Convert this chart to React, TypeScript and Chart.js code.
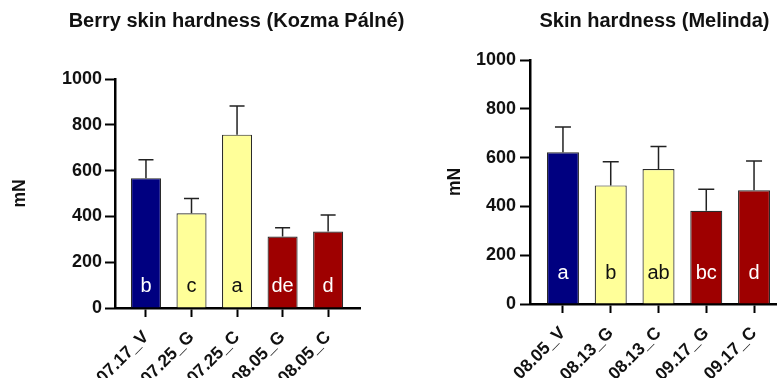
import React, { useEffect, useRef } from "react";
import { Chart, registerables } from "chart.js";

Chart.register(...registerables);

// ---------- data ----------
const leftTitle = "Berry skin hardness (Kozma Pálné)";
const leftLabels = ["07.17_V", "07.25_G", "07.25_C", "08.05_G", "08.05_C"];
const leftMeans = [567, 414, 757, 312, 334];
const leftErrTop = [647, 478, 882, 350, 406];
const leftLetters = ["b", "c", "a", "de", "d"];
const leftColorKeys = ["navy", "yellow", "yellow", "red", "red"];

const rightTitle = "Skin hardness (Melinda)";
const rightLabels = ["08.05_V", "08.13_G", "08.13_C", "09.17_G", "09.17_C"];
const rightMeans = [622, 486, 553, 382, 466];
const rightErrTop = [725, 583, 645, 470, 586];
const rightLetters = ["a", "b", "ab", "bc", "d"];
const rightColorKeys = ["navy", "yellow", "yellow", "red", "red"];

const yTicks = [0, 200, 400, 600, 800, 1000];
const yTitle = "mN";

// ---------- styles ----------
const FILL: Record<string, string> = { navy: "#000080", yellow: "#FFFF99", red: "#9E0000" };
const LETTER: Record<string, string> = { navy: "#FFFFFF", yellow: "#111111", red: "#FFFFFF" };
const FAMILY = '"Liberation Sans", Arial, Helvetica, sans-serif';

type Layout = {
  canvasLeft: number;
  width: number;
  padTop: number;
  padRight: number;
  yWidth: number;
  xHeight: number;
  xMin: number;
  xMax: number;
  barPct: number;
  titlePad: number;
  letterOffset: number;
  yTickPad: number;
  titleShift: number;
};

type PanelProps = {
  title: string;
  labels: string[];
  means: number[];
  errTop: number[];
  letters: string[];
  colorKeys: string[];
  layout: Layout;
};

function Panel({ title, labels, means, errTop, letters, colorKeys, layout }: PanelProps) {
  const ref = useRef<HTMLCanvasElement | null>(null);

  useEffect(() => {
    if (!ref.current) return;

    const overlay = {
      id: "overlay",
      afterDatasetsDraw(chart: any) {
        const ctx = chart.ctx;
        const meta = chart.getDatasetMeta(0);
        const ys = chart.scales.y;
        ctx.save();
        // error bars
        ctx.strokeStyle = "#222";
        ctx.lineWidth = 1.5;
        meta.data.forEach((bar: any, i: number) => {
          const top = ys.getPixelForValue(errTop[i]);
          const half = bar.width / 4;
          ctx.beginPath();
          ctx.moveTo(bar.x, bar.y);
          ctx.lineTo(bar.x, top);
          ctx.moveTo(bar.x - half, top);
          ctx.lineTo(bar.x + half, top);
          ctx.stroke();
        });
        // letters
        ctx.font = `20px ${FAMILY}`;
        ctx.textAlign = "center";
        ctx.textBaseline = "middle";
        meta.data.forEach((bar: any, i: number) => {
          ctx.fillStyle = LETTER[colorKeys[i]];
          ctx.fillText(letters[i], bar.x, ys.getPixelForValue(0) - layout.letterOffset);
        });
        // title
        const ca = chart.chartArea;
        ctx.font = `bold 20px ${FAMILY}`;
        ctx.fillStyle = "#111";
        ctx.fillText(title, (ca.left + ca.right) / 2 + layout.titleShift, 21.5);
        ctx.restore();
      },
    };

    const chart = new Chart(ref.current, {
      type: "bar",
      data: {
        datasets: [
          {
            data: means.map((v, i) => ({ x: i, y: v })),
            backgroundColor: colorKeys.map((k) => FILL[k]),
            borderColor: "#2a2a2a",
            borderWidth: 1.2,
            categoryPercentage: 1,
            barPercentage: layout.barPct,
          } as any,
        ],
      },
      options: {
        responsive: false,
        animation: false,
        layout: { padding: { top: layout.padTop, right: layout.padRight, bottom: 0, left: 0 } },
        plugins: { legend: { display: false }, tooltip: { enabled: false }, title: { display: false } },
        scales: {
          x: {
            type: "linear",
            min: layout.xMin,
            max: layout.xMax,
            offset: false,
            afterBuildTicks: (s: any) => {
              s.ticks = labels.map((_, i) => ({ value: i }));
            },
            afterFit: (s: any) => {
              s.height = layout.xHeight;
            },
            grid: {
              display: true,
              offset: false,
              drawOnChartArea: false,
              drawTicks: true,
              tickLength: 9,
              tickWidth: 2,
              tickColor: "#000",
            },
            border: { display: true, color: "#000", width: 2.5 },
            ticks: {
              autoSkip: false,
              minRotation: 45,
              maxRotation: 45,
              padding: 10,
              color: "#111",
              font: { family: FAMILY, size: 17.5, weight: "bold" },
              callback: (v: any) => labels[v as number] ?? "",
            },
          } as any,
          y: {
            type: "linear",
            min: yTicks[0],
            max: yTicks[yTicks.length - 1],
            afterBuildTicks: (s: any) => {
              s.ticks = yTicks.map((v) => ({ value: v }));
            },
            afterFit: (s: any) => {
              s.width = layout.yWidth;
            },
            grid: {
              display: true,
              drawOnChartArea: false,
              drawTicks: true,
              tickLength: 10,
              tickWidth: 2,
              tickColor: "#000",
            },
            border: { display: true, color: "#000", width: 2.5 },
            ticks: {
              padding: layout.yTickPad,
              color: "#111",
              font: { family: FAMILY, size: 18, weight: "bold" },
              callback: (v: any) => String(v),
            },
            title: {
              display: true,
              text: yTitle,
              color: "#111",
              padding: { top: layout.titlePad, bottom: 0 },
              font: { family: FAMILY, size: 17.5, weight: "bold" },
            },
          } as any,
        },
      },
      plugins: [overlay],
    });

    return () => chart.destroy();
  }, []);

  return (
    <canvas
      ref={ref}
      width={layout.width}
      height={378}
      style={{ position: "absolute", left: layout.canvasLeft, top: 0, width: layout.width, height: 378 }}
    />
  );
}

const leftLayout: Layout = {
  canvasLeft: 0,
  width: 420,
  padTop: 79,
  padRight: 60,
  yWidth: 115,
  xHeight: 70,
  xMin: -0.68,
  xMax: 4.7,
  barPct: 0.66,
  titlePad: 9.5,
  letterOffset: 21.6,
  yTickPad: 3,
  titleShift: -1,
};

const rightLayout: Layout = {
  canvasLeft: 400,
  width: 400,
  padTop: 60,
  padRight: 13,
  yWidth: 130,
  xHeight: 74,
  xMin: -0.69,
  xMax: 4.69,
  barPct: 0.67,
  titlePad: 44.5,
  letterOffset: 31,
  yTickPad: 4,
  titleShift: -4,
};

export default function App() {
  return (
    <div
      style={{
        position: "fixed",
        left: 0,
        top: 0,
        width: 777,
        height: 378,
        overflow: "hidden",
        background: "#fff",
      }}
    >
      <Panel
        title={leftTitle}
        labels={leftLabels}
        means={leftMeans}
        errTop={leftErrTop}
        letters={leftLetters}
        colorKeys={leftColorKeys}
        layout={leftLayout}
      />
      <Panel
        title={rightTitle}
        labels={rightLabels}
        means={rightMeans}
        errTop={rightErrTop}
        letters={rightLetters}
        colorKeys={rightColorKeys}
        layout={rightLayout}
      />
    </div>
  );
}
